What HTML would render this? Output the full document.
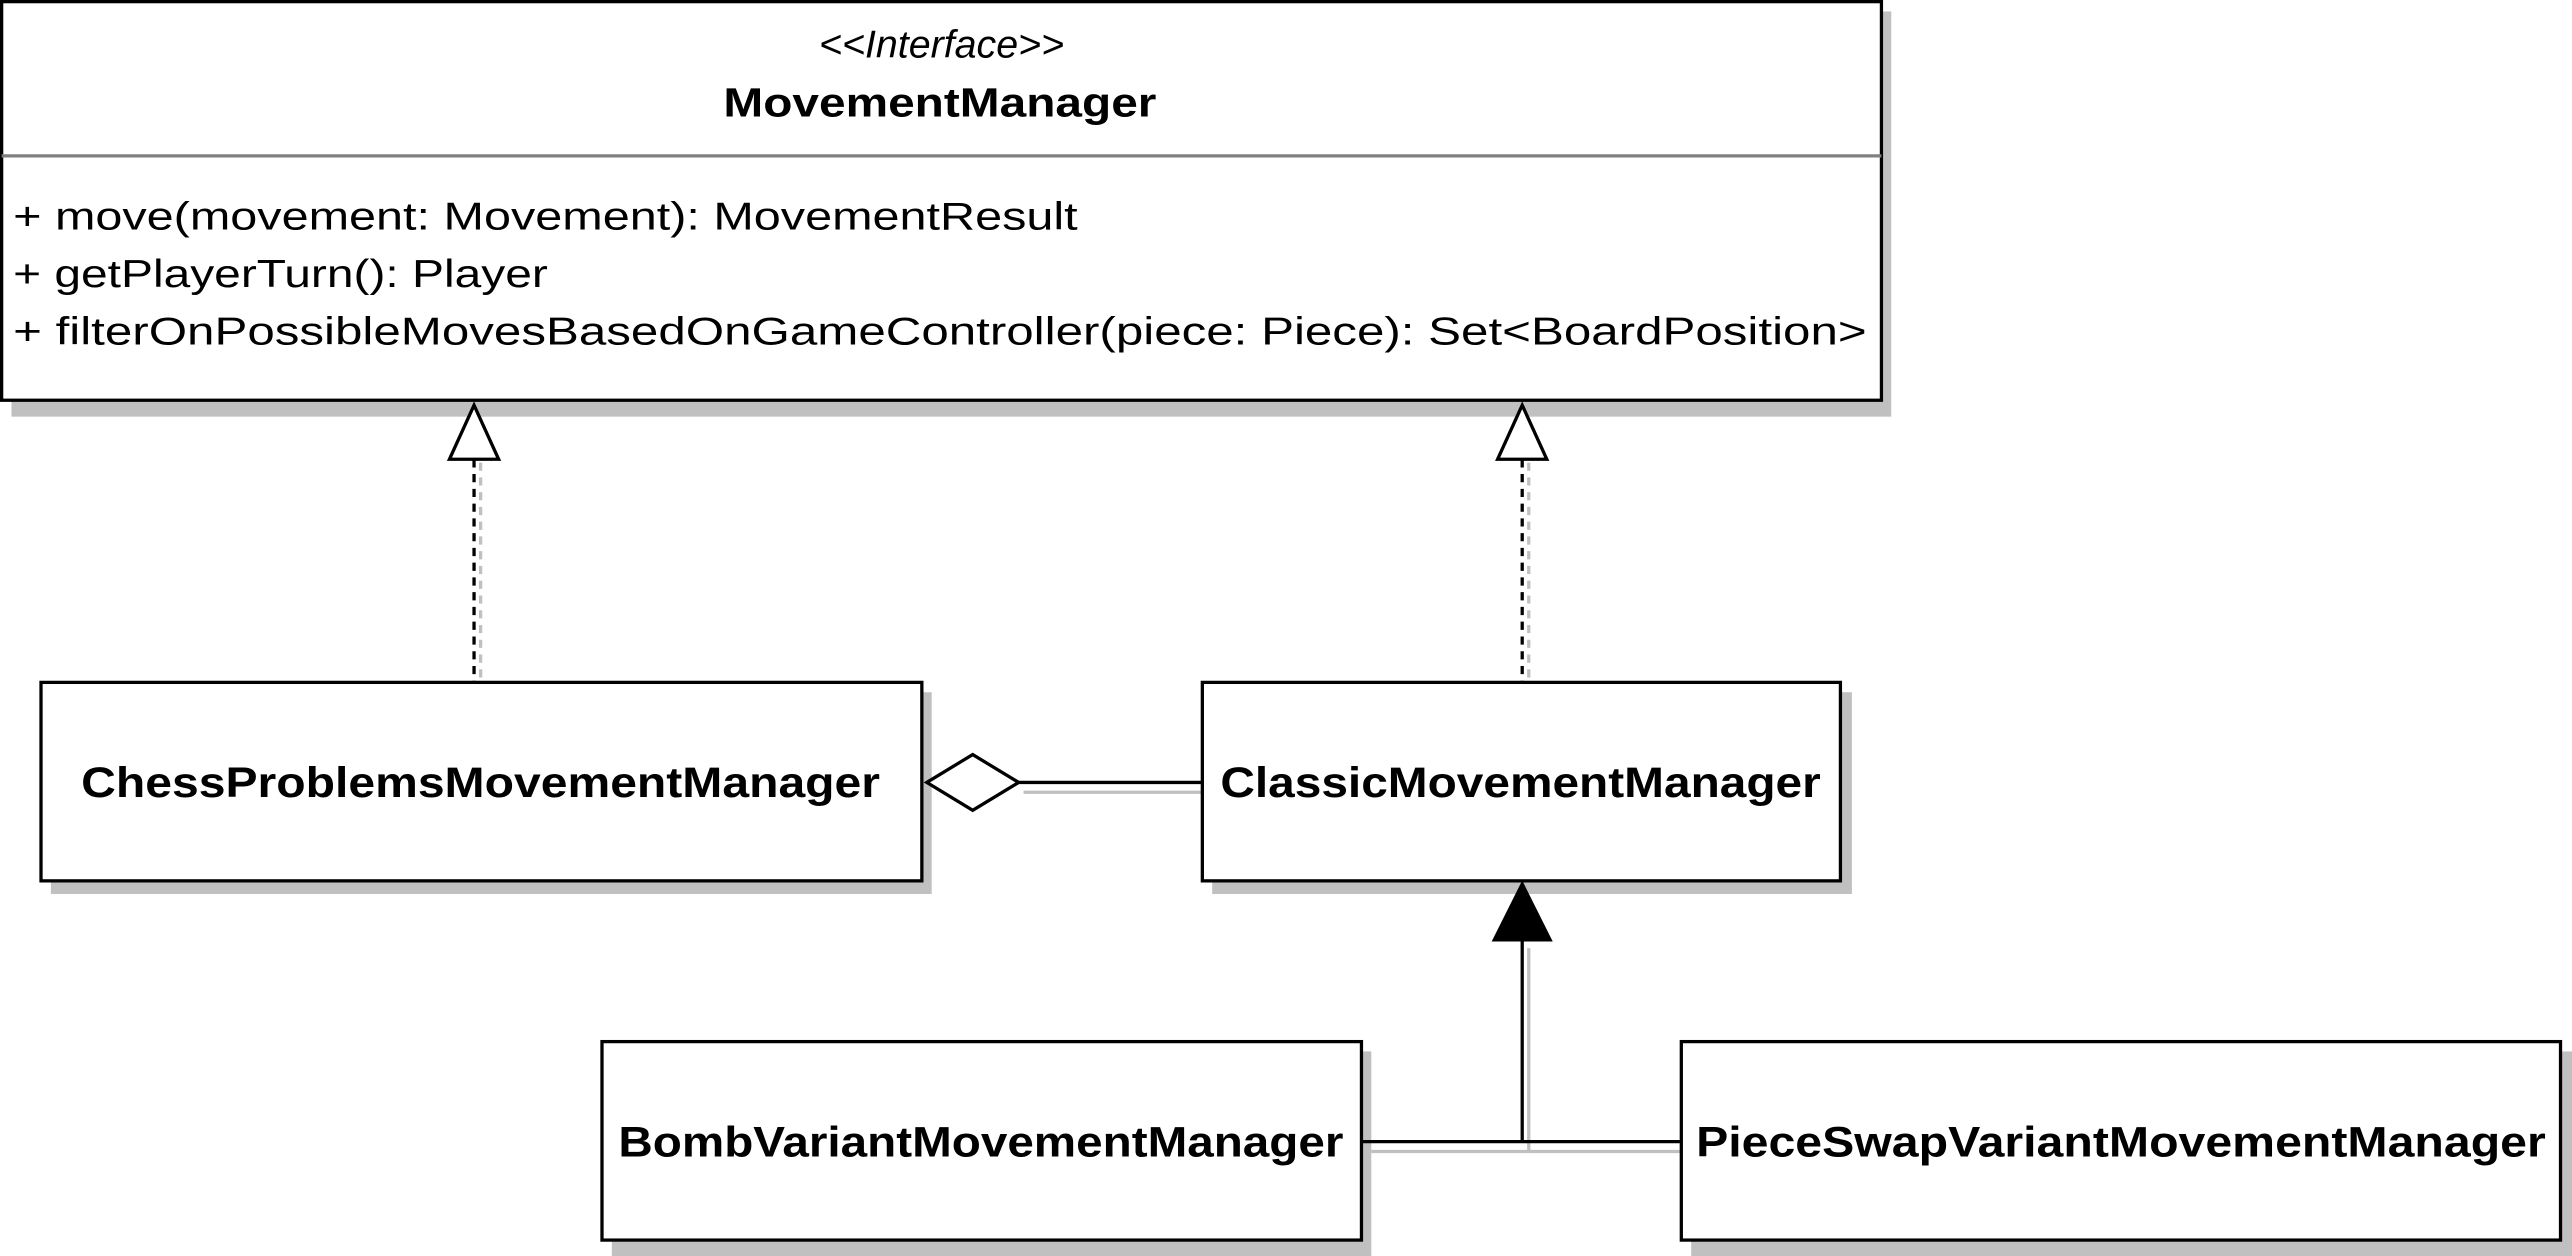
<!DOCTYPE html>
<html><head><meta charset="utf-8"><style>html,body{margin:0;padding:0;background:#fff}svg{display:block}</style></head>
<body>
<svg width="2572" height="1256" viewBox="0 0 1568 765.7" preserveAspectRatio="none" xmlns="http://www.w3.org/2000/svg" font-family="Liberation Sans, Arial, sans-serif">
<!-- shadows -->
<g fill="#c0c0c0">
<rect x="7" y="7" width="1146" height="247"/>
<rect x="31" y="422" width="537" height="123"/>
<rect x="739" y="422" width="390" height="123"/>
<rect x="373" y="641" width="463" height="125"/>
<rect x="1031" y="641" width="537" height="125"/>
</g>
<!-- connector shadows -->
<g stroke="#c0c0c0" stroke-width="2" fill="none">
<line x1="293" y1="282" x2="293" y2="416" stroke-dasharray="5,4"/>
<line x1="932" y1="282" x2="932" y2="416" stroke-dasharray="5,4"/>
<line x1="624" y1="483" x2="733" y2="483"/>
<line x1="932" y1="578" x2="932" y2="702"/>
<line x1="836" y1="702" x2="1025" y2="702"/>
</g>
<!-- boxes -->
<g fill="#fff" stroke="#000" stroke-width="2">
<rect x="1" y="1" width="1146" height="243"/>
<rect x="25" y="416" width="537" height="121"/>
<rect x="733" y="416" width="389" height="121"/>
<rect x="367" y="635" width="463" height="121"/>
<rect x="1025" y="635" width="536" height="121"/>
</g>
<line x1="1" y1="95" x2="1147" y2="95" stroke="#808080" stroke-width="2"/>
<!-- text -->
<text x="574" y="35" text-anchor="middle" font-style="italic" font-size="24">&lt;&lt;Interface&gt;&gt;</text>
<text x="573" y="71" text-anchor="middle" font-weight="bold" font-size="25" textLength="264" lengthAdjust="spacingAndGlyphs">MovementManager</text>
<g font-size="24">
<text x="8" y="140" textLength="649" lengthAdjust="spacingAndGlyphs">+ move(movement: Movement): MovementResult</text>
<text x="8" y="175" textLength="326" lengthAdjust="spacingAndGlyphs">+ getPlayerTurn(): Player</text>
<text x="8" y="210" textLength="1130" lengthAdjust="spacingAndGlyphs">+ filterOnPossibleMovesBasedOnGameController(piece: Piece): Set&lt;BoardPosition&gt;</text>
</g>
<g font-size="26" font-weight="bold" text-anchor="middle">
<text x="293" y="486" textLength="487" lengthAdjust="spacingAndGlyphs">ChessProblemsMovementManager</text>
<text x="927" y="486" textLength="366" lengthAdjust="spacingAndGlyphs">ClassicMovementManager</text>
<text x="598" y="705" textLength="442" lengthAdjust="spacingAndGlyphs">BombVariantMovementManager</text>
<text x="1293" y="705" textLength="518" lengthAdjust="spacingAndGlyphs">PieceSwapVariantMovementManager</text>
</g>
<!-- realization connectors -->
<g stroke="#000" stroke-width="2" fill="none">
<line x1="289" y1="280" x2="289" y2="416" stroke-dasharray="5,4"/>
<line x1="928" y1="280" x2="928" y2="416" stroke-dasharray="5,4"/>
<line x1="621" y1="477" x2="733" y2="477"/>
<line x1="928" y1="573" x2="928" y2="696"/>
<line x1="830" y1="696" x2="1025" y2="696"/>
</g>
<g stroke="#000" stroke-width="2" fill="#fff">
<polygon points="289,247 274,280 304,280"/>
<polygon points="928,247 913,280 943,280"/>
<polygon points="565,477 593,460 621,477 593,494"/>
</g>
<polygon points="928,539 911,573 945,573" fill="#000" stroke="#000" stroke-width="2"/>
</svg>
</body></html>
